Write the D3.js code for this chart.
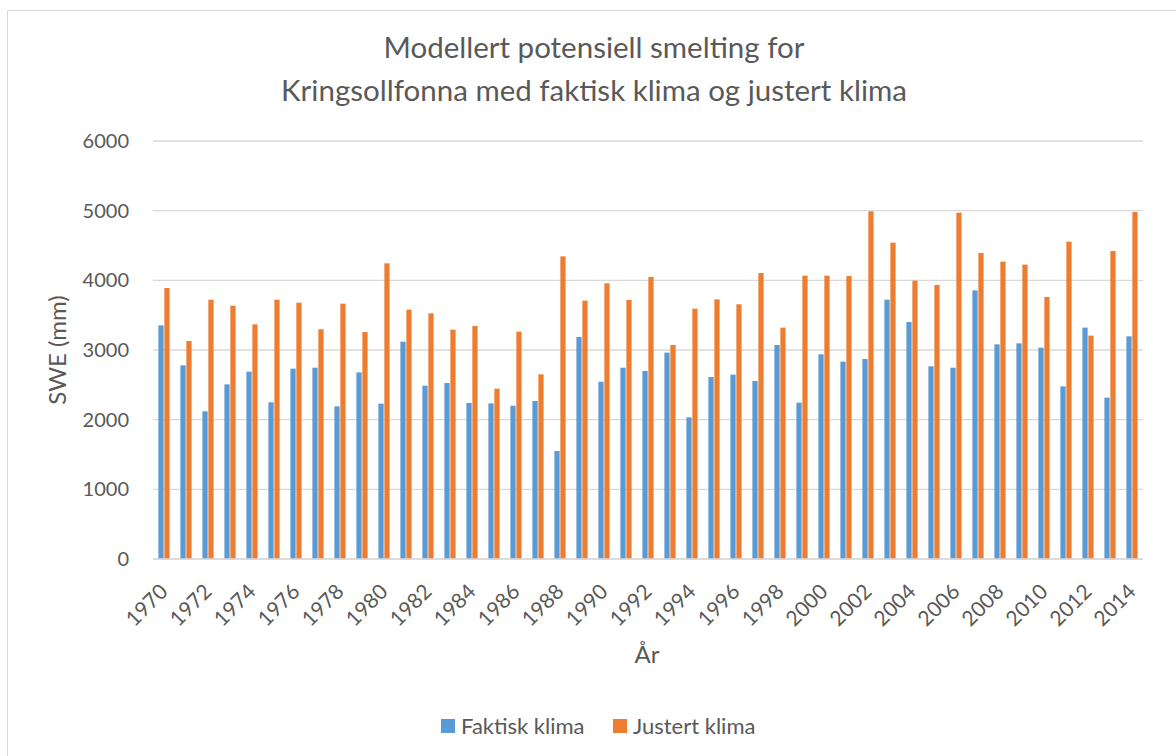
<!DOCTYPE html>
<html>
<head>
<meta charset="utf-8">
<script src="https://cdn.jsdelivr.net/npm/d3@7"></script>
<style>
  html, body { margin: 0; padding: 0; background: #fff; }
  svg { display: block; font-family: Lato, "Open Sans", sans-serif; }
</style>
</head>
<body>
<svg id="chart" width="1176" height="756"></svg>
<script>
const years = d3.range(1970, 2015);
const faktisk = [3354, 2780, 2120, 2507, 2689, 2249, 2732, 2746, 2191, 2679,
                 2230, 3120, 2488, 2526, 2239, 2234, 2201, 2268, 1550, 3187,
                 2545, 2746, 2699, 2962, 2033, 2612, 2646, 2555, 3072, 2244,
                 2938, 2833, 2871, 3722, 3402, 2766, 2746, 3856, 3081, 3096,
                 3033, 2478, 3321, 2316, 3196];
const justert = [3890, 3129, 3722, 3636, 3368, 3722, 3679, 3297, 3665, 3258,
                 4244, 3579, 3526, 3292, 3344, 2445, 3263, 2651, 4344, 3708,
                 3957, 3718, 4048, 3072, 3593, 3727, 3656, 4105, 3321, 4067,
                 4067, 4062, 4990, 4541, 3995, 3933, 4971, 4392, 4268, 4225,
                 3761, 4555, 3206, 4421, 4981];
const seriesNames = ["Faktisk klima", "Justert klima"];
const seriesColors = ["#5B9BD5", "#ED7D31"];
const yTicks = [0, 1000, 2000, 3000, 4000, 5000, 6000];
const xTickYears = years.filter(y => y % 2 === 0);
const titleLines = ["Modellert potensiell smelting for", "Kringsollfonna med faktisk klima og justert klima"];
const yTitle = "SWE (mm)";
const xTitle = "År";

const svg = d3.select("#chart");
const textColor = "#595959";
const pLeft = 153, pRight = 1143, pTop = 141, pBottom = 559;

// chart border
svg.append("rect").attr("x", 7.5).attr("y", 10.5).attr("width", 1180).attr("height", 760)
  .attr("fill", "#fff").attr("stroke", "#D9D9D9").attr("stroke-width", 1);

const x0 = d3.scaleBand().domain(years).range([pLeft, pRight]).paddingInner(0.49).paddingOuter(0.245);
const x1 = d3.scaleBand().domain([0, 1]).range([0, x0.bandwidth()]).paddingInner(0.12);
const y = d3.scaleLinear().domain([0, 6000]).range([pBottom, pTop]);

// gridlines
svg.append("g").selectAll("line").data(yTicks).join("line")
  .attr("x1", pLeft).attr("x2", pRight)
  .attr("y1", d => y(d)).attr("y2", d => y(d))
  .attr("stroke", "#D9D9D9").attr("stroke-width", 1.3);

// y axis labels
const yAxis = svg.append("g").attr("transform", `translate(${pLeft},0)`)
  .call(d3.axisLeft(y).tickValues(yTicks).tickSize(0).tickPadding(24).tickFormat(d3.format("d")));
yAxis.select(".domain").remove();
yAxis.selectAll("text").attr("fill", textColor).style("font-size", "20px")
  .style("font-family", "Lato, 'Open Sans', sans-serif");

// bars
const data = years.map((yr, i) => ({ year: yr, vals: [faktisk[i], justert[i]] }));
const groups = svg.append("g").selectAll("g").data(data).join("g")
  .attr("transform", d => `translate(${x0(d.year)},0)`);
groups.selectAll("rect").data(d => d.vals.map((v, k) => ({ k, v }))).join("rect")
  .attr("x", d => x1(d.k))
  .attr("width", x1.bandwidth())
  .attr("y", d => y(d.v))
  .attr("height", d => y(0) - y(d.v))
  .attr("fill", d => seriesColors[d.k]);

// baseline
svg.append("line").attr("x1", pLeft).attr("x2", pRight).attr("y1", y(0)).attr("y2", y(0))
  .attr("stroke", "#D9D9D9").attr("stroke-width", 1.5);

// x axis labels
const xAxis = svg.append("g").attr("transform", `translate(0,${pBottom})`)
  .call(d3.axisBottom(x0).tickValues(xTickYears).tickSize(0).tickPadding(0));
xAxis.select(".domain").remove();
xAxis.selectAll(".tick text")
  .attr("fill", textColor).style("font-size", "21px")
  .style("font-family", "Lato, 'Open Sans', sans-serif")
  .attr("text-anchor", "end")
  .attr("dy", "0")
  .attr("transform", "translate(5,34) rotate(-45)");

// title
svg.append("text").attr("x", 594).attr("y", 58).attr("text-anchor", "middle")
  .attr("fill", textColor).style("font-size", "29.5px").text(titleLines[0]);
svg.append("text").attr("x", 594).attr("y", 101).attr("text-anchor", "middle")
  .attr("fill", textColor).style("font-size", "29.5px").text(titleLines[1]);

// axis titles
svg.append("text").attr("transform", `translate(${66},${(pTop + pBottom) / 2}) rotate(-90)`)
  .attr("text-anchor", "middle").attr("fill", textColor).style("font-size", "24px").text(yTitle);
svg.append("text").attr("x", 647).attr("y", 663).attr("text-anchor", "middle")
  .attr("fill", textColor).style("font-size", "24px").text(xTitle);

// legend
const legendX = [441, 613];
const lg = svg.append("g").selectAll("g").data(seriesNames).join("g")
  .attr("transform", (d, i) => `translate(${legendX[i]},719)`);
lg.append("rect").attr("width", 14).attr("height", 14).attr("fill", (d, i) => seriesColors[i]);
lg.append("text").attr("x", 20).attr("y", 14.5).attr("fill", textColor)
  .style("font-size", "22px").text(d => d);
</script>
</body>
</html>
